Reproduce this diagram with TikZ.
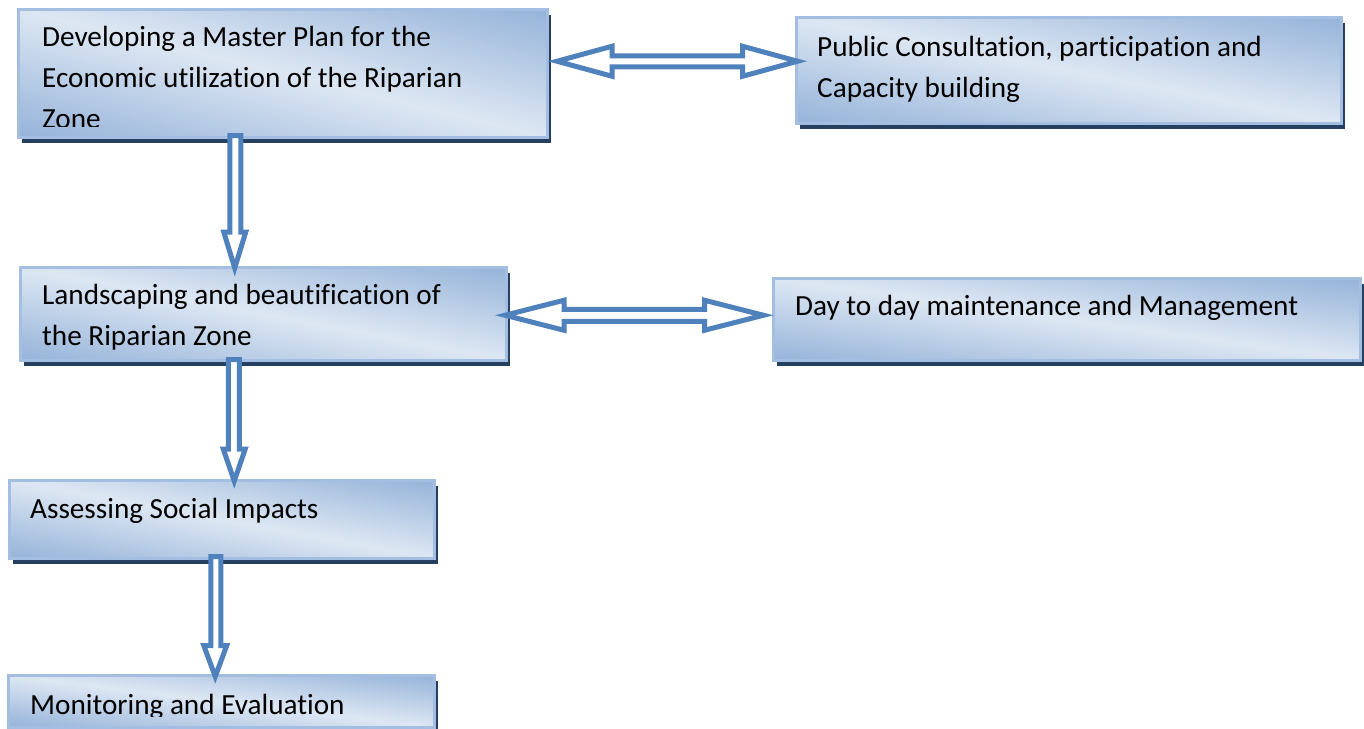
\documentclass[tikz,border=0pt]{standalone}
\usepackage{fontspec}
\setmainfont{Carlito}[RawFeature={-liga}]
\usetikzlibrary{calc,shadows}
\definecolor{boxborder}{HTML}{A3BEE0}
\definecolor{shadowc}{HTML}{243F60}
\definecolor{arrowc}{HTML}{4F81BD}
% diagonal gradient stretched to the box: light along the top-left/bottom-right diagonal,
% darker towards the top-right and bottom-left corners
\pgfdeclarefunctionalshading{diagbox}{\pgfpoint{0bp}{0bp}}{\pgfpoint{100bp}{100bp}}{}{%
  add 100 sub abs 50 div dup 1 gt {pop 1} if
  dup dup
  -0.102 mul 0.953 add
  exch -0.204 mul 0.906 add
  exch
  3 -1 roll -0.283 mul 0.867 add
  3 1 roll
}
\tikzset{
  box/.style={rectangle, inner sep=0pt, anchor=north west, draw=boxborder, line width=2.5pt,
    shade, shading=diagbox, shading angle=0,
    drop shadow={shadow xshift=3.5pt, shadow yshift=-6pt, fill=shadowc, opacity=1}},
  txt/.style={inner sep=0pt, anchor=base west, font=\fontsize{29.2}{41}\selectfont, text=black},
  blockarrow/.style={draw=arrowc, fill=white, line width=5pt, line join=miter}
}
% horizontal double block arrow: #1 left tip, #2 right tip, #3 head length, #4 head half width, #5 shaft half width
\newcommand{\hdblarrow}[5]{%
  \draw[blockarrow] let \p1=(#1), \p2=(#2) in
   (\x1,\y1) -- (\x1+#3pt,\y1+#4pt) -- (\x1+#3pt,\y1+#5pt) -- (\x2-#3pt,\y2+#5pt)
   -- (\x2-#3pt,\y2+#4pt) -- (\x2,\y2) -- (\x2-#3pt,\y2-#4pt) -- (\x2-#3pt,\y2-#5pt)
   -- (\x1+#3pt,\y1-#5pt) -- (\x1+#3pt,\y1-#4pt) -- cycle;}
% vertical downward block arrow: #1 top, #2 tip
\newcommand{\vdownarrow}[5]{%
  \draw[blockarrow] let \p1=(#1), \p2=(#2) in
   (\x1-#5pt,\y1) -- (\x1-#5pt,\y2+#3pt) -- (\x2-#4pt,\y2+#3pt) -- (\x2,\y2)
   -- (\x2+#4pt,\y2+#3pt) -- (\x1+#5pt,\y2+#3pt) -- (\x1+#5pt,\y1) -- cycle;}
\begin{document}
\begin{tikzpicture}[x=1pt,y=-1pt]
\useasboundingbox (0,0) rectangle (1364,728);
\clip (0,0) rectangle (1364,728);
\fill[white] (0,0) rectangle (1364,728);

% boxes
\node[box, minimum width=529pt, minimum height=128pt] (m1) at (17,8) {};
\node[box, minimum width=545pt, minimum height=106pt] (pc) at (795,16) {};
\node[box, minimum width=486pt, minimum height=93pt] (ls) at (19,266) {};
\node[box, minimum width=587pt, minimum height=82pt] (dd) at (772,277) {};
\node[box, minimum width=425pt, minimum height=78pt] (as) at (8,479) {};
\node[box, minimum width=426pt, minimum height=52pt] (me) at (7,674) {};

% texts (clipped to the box interior)
\begin{scope}
\clip (m1.north west) rectangle ($(m1.south east)+(0,-12)$);
\node[txt] (m1t) at ($(m1.north west)+(25,38)$) {\vtop{\hbox{Developing a Master Plan for the}\hbox{Economic utilization of the Riparian}\hbox{Zone}}};
\end{scope}
\node[txt] (pct) at ($(pc.north west)+(22,40)$) {\vtop{\hbox{Public Consultation, participation and}\hbox{Capacity building}}};
\node[txt] (lst) at ($(ls.north west)+(23,38)$) {\vtop{\hbox{Landscaping and beautification of}\hbox{the Riparian Zone}}};
\node[txt] (ddt) at ($(dd.north west)+(23,38)$) {Day to day maintenance and Management};
\node[txt] (ast) at ($(as.north west)+(22,39)$) {Assessing Social Impacts};
\begin{scope}
\clip (me.north west) rectangle ($(me.south east)+(0,-12)$);
\node[txt] (met) at ($(me.north west)+(23,40)$) {Monitoring and Evaluation};
\end{scope}

% connector end points
\coordinate (h1a) at ($(m1.east)+(8.5,-12)$);
\coordinate (h1b) at ($(pc.west)+(2.5,-9)$);
\coordinate (h2a) at ($(ls.east)+(-2.5,1.5)$);
\coordinate (h2b) at ($(dd.west)+(-8.5,-4)$);
\coordinate (v1a) at ($(m1.south)+(-47.5,-3)$);
\coordinate (v1b) at ($(ls.north)+(-28.5,2)$);
\coordinate (v2a) at ($(ls.south)+(-29.5,-2)$);
\coordinate (v2b) at ($(as.north)+(12.5,2)$);
\coordinate (v3a) at ($(as.south)+(-6,-3)$);
\coordinate (v3b) at ($(me.north)+(-6,2.5)$);

% connectors
\hdblarrow{h1a}{h1b}{55}{15}{5.5}
\hdblarrow{h2a}{h2b}{59}{15}{6}
\vdownarrow{v1a}{v1b}{36}{11}{5.5}
\vdownarrow{v2a}{v2b}{32}{11}{5.5}
\vdownarrow{v3a}{v3b}{31}{11.5}{5}
\end{tikzpicture}
\end{document}
